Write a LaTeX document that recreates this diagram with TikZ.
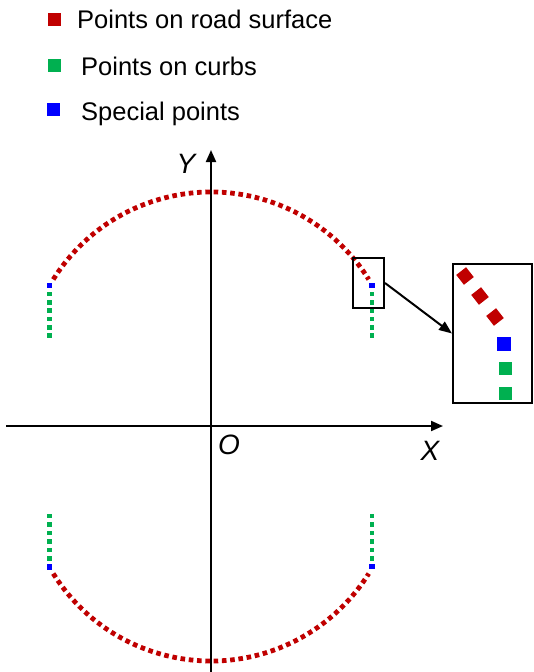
\documentclass[tikz,border=0pt]{standalone}
\usepackage{fontspec}
\setmainfont{Liberation Sans}
\usetikzlibrary{arrows.meta}
\definecolor{roadred}{HTML}{C00000}
\definecolor{curbgreen}{HTML}{00B050}
\definecolor{specblue}{HTML}{0000FF}
\tikzset{
  legtext/.style={anchor=base west, inner sep=0pt, font=\fontsize{25.5}{30}\selectfont},
  axlabel/.style={inner sep=0pt, font=\fontsize{28}{32}\selectfont\itshape},
  axis/.style={line width=2pt, -{Triangle[length=12pt,width=10pt]}},
  roaddots/.style={roadred, line width=4.8pt, dash pattern=on 4.6pt off 3.7pt},
  gdot/.style={fill=curbgreen, draw=none, minimum size=4.6pt, inner sep=0pt},
  bdot/.style={fill=specblue, draw=none, minimum size=5.4pt, inner sep=0pt},
  legsq/.style={draw=none, inner sep=0pt, minimum size=13pt},
  frame/.style={draw=black, line width=2pt, inner sep=0pt},
  magred/.style={fill=roadred, minimum size=12.5pt, inner sep=0pt, rotate=38},
  magsq/.style={minimum size=#1, inner sep=0pt},
}
\begin{document}
\begin{tikzpicture}[x=1pt,y=-1pt]
\useasboundingbox (0,0) rectangle (534,672);
% legend
\node[legsq, fill=roadred] (lr) at (54,19) {};
\node[legsq, fill=curbgreen] (lg) at (54,65.5) {};
\node[legsq, fill=specblue] (lb) at (53.5,109.5) {};
\node[legtext] (tr) at (77,28.5) {Points on road surface};
\node[legtext] (tg) at (81,75.5) {Points on curbs};
\node[legtext] (tb) at (81,120.5) {Special points};
% axes
\coordinate (xs) at (6,426);
\coordinate (xe) at (443,426);
\coordinate (ys) at (211,672);
\coordinate (ye) at (211,150);
\draw[axis] (xs) -- (xe);
\draw[axis] (ys) -- (ye);
\node[axlabel] (lY) at (186,164) {Y};
\node[axlabel] (lO) at (229,445) {O};
\node[axlabel] (lX) at (430,451) {X};
% top arc (road surface)
\draw[roaddots] (211,378) ++(212:186) arc[start angle=212, end angle=328, radius=186];
% bottom arc
\draw[roaddots] (211,475) ++(148:186) arc[start angle=148, end angle=32, radius=186];
% special points
\node[bdot] (b1) at (49.5,285.5) {};
\node[bdot] (b2) at (372,285.5) {};
\node[bdot] (b3) at (49.5,567) {};
\node[bdot] (b4) at (372,566.5) {};
% curb points
\foreach \i in {0,...,5}{
  \node[gdot] at (49.5,{294+8.35*\i}) {};
  \node[gdot] at (372,{294+8.35*\i}) {};
  \node[gdot] at (49.5,{516+8.45*\i}) {};
  \node[gdot] at (372,{516+8.45*\i}) {};
}
% zoom boxes
\node[frame, minimum width=31pt, minimum height=50pt] (zb) at (368.5,283) {};
\node[frame, minimum width=79pt, minimum height=139pt] (bb) at (492.5,333.5) {};
\draw[line width=2pt, -{Triangle[length=13pt,width=10pt]}] (zb.east) -- (bb.west);
% magnified points
\node[magred] (m1) at (465,276) {};
\node[magred] (m2) at (480,296) {};
\node[magred] (m3) at (495,317) {};
\node[magsq=14.5pt, fill=specblue] (m4) at (504,344) {};
\node[magsq=13pt, fill=curbgreen] (m5) at (505,368) {};
\node[magsq=13pt, fill=curbgreen] (m6) at (505,393) {};
\end{tikzpicture}
\end{document}
